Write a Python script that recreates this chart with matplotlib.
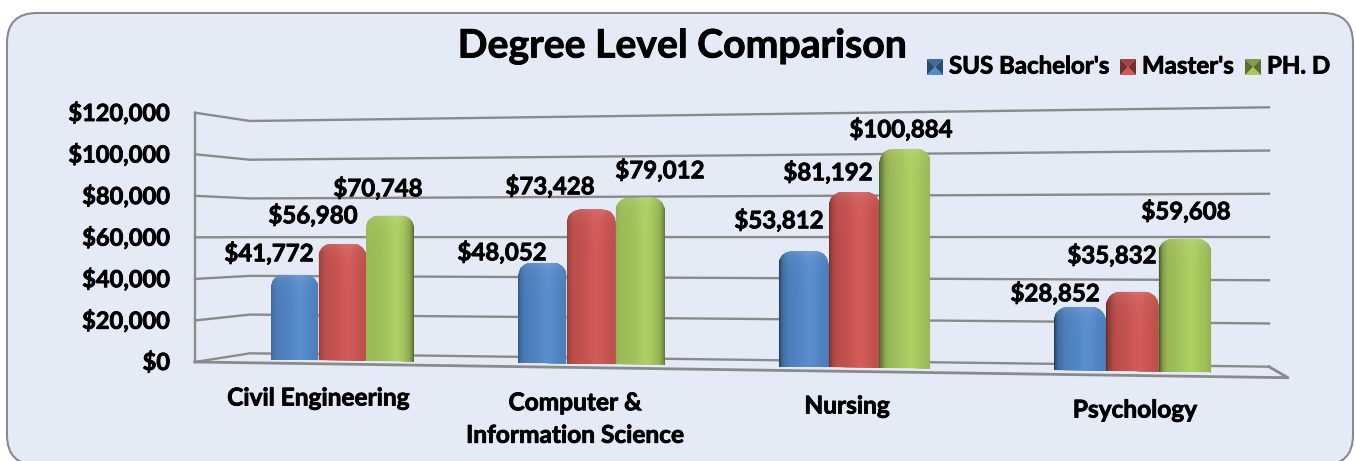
import matplotlib
matplotlib.use('Agg')
import matplotlib.pyplot as plt
import matplotlib.transforms as mtransforms
import matplotlib.patheffects as pe
from matplotlib.patches import FancyBboxPatch, Polygon
from matplotlib.path import Path
import numpy as np

plt.rcParams['font.family'] = ['Lato', 'DejaVu Sans']

categories = ["Civil Engineering", "Computer &\nInformation Science", "Nursing", "Psychology"]
series_names = ["SUS Bachelor's", "Master's", "PH. D"]
bachelors = [41772, 48052, 53812, 28852]
masters = [56980, 73428, 81192, 35832]
phd = [70748, 79012, 100884, 59608]
y_ticks = [0, 20000, 40000, 60000, 80000, 100000, 120000]

W, H = 1356, 461

# colours: mid, highlight
colors = [('#4d80bd', '#5a8dce'), ('#c0504d', '#d25b58'), ('#9dbd59', '#abcf62')]
key_colors = ['#4a7ebb', '#c0504d', '#98b954']
# how dark the left / right side of each bar gets, per category then series
left_dark = [[.20, .25, .03], [.35, .25, .08], [.55, .45, .55], [.60, .55, .60]]
right_dark = [[.03, .03, .50], [.03, .03, .42], [.03, .03, .03], [.03, .03, .08]]
bar_width = 0.19
bar_offsets = [-0.195, -0.003, 0.187]
# the groups get a little narrower towards the right
group_scale = [1.03, 1.0, 0.98, 0.96]

# where the data labels sit, px centres
label_pos = [[(269, 253), (313, 215), (378, 188)],
             [(502, 252), (550, 186), (660, 170)],
             [(779, 220), (828, 172), (901, 129)],
             [(1055, 293), (1112, 255), (1186, 211)]]
cat_pos = [(318, 398), (575, 419), (847, 406), (1135, 410)]

thick = [pe.withStroke(linewidth=0.6, foreground='black')]


class BarPlane(mtransforms.Transform):
    # perspective of the plane the bars stand on: (category, dollars) -> px
    input_dims = 2
    output_dims = 2
    is_separable = False

    def transform_non_affine(self, values):
        values = np.asarray(values, dtype=float)
        u, v = values[:, 0], values[:, 1]
        w = 1 - 0.0266 * u
        return np.column_stack([(233.25 * u + 343) / w,
                                (-6.3 * u + 360.7 - 0.00205 * v) / w])


fig = plt.figure(figsize=(W / 100, H / 100), dpi=100)
ax = fig.add_axes([0, 0, 1, 1])
ax.set_axis_off()

panel = FancyBboxPatch((7, 13), 1346, 452, boxstyle="round,pad=0,rounding_size=30",
                       facecolor='#e5ebf6', edgecolor='#8a8a8a', linewidth=1.5)
ax.add_patch(panel)


# back wall and side wall
def side_y(v):
    return 362 - v * 249.3 / 120000


def back_y(v, right=False):
    if right:
        return 366.7 - v * 259.4 / 120000
    return 353.3 - v * 232.3 / 120000


grid = '#8a8a8a'
for v in y_ticks:
    ax.plot([195, 250, 1269], [side_y(v), back_y(v), back_y(v, True)], color=grid, lw=1.7, zorder=2)
    ax.text(170, side_y(v), "${:,}".format(v), ha='right', va='center', fontsize=17,
            fontweight='bold', color='black', zorder=6, path_effects=thick)
ax.plot([195, 195], [side_y(120000), side_y(0)], color=grid, lw=1.7, zorder=2)
ax.plot([195, 1288, 1269], [362, 377.7, 366.7], color=grid, lw=2, zorder=2)

plane = BarPlane() + ax.transData


def rounded_top(x0, x1, top):
    # outline of a bar with round shoulders, in data units
    rx = 0.052
    ry = 6000
    t = np.linspace(0, np.pi / 2, 12)
    left = np.column_stack([x0 + rx - rx * np.cos(t), top - ry + ry * np.sin(t)])
    right = np.column_stack([x1 - rx + rx * np.sin(t), top - ry + ry * np.cos(t)])
    return Path(np.vstack([[x0, 0], left, right, [x1, 0], [x0, 0]]))


def rgb(c):
    return np.array(matplotlib.colors.to_rgb(c))


def shaded(mid, light, dl, dr, top):
    # colour grid for one bar: dark sides, a soft highlight right of the middle
    t = (np.arange(48) + .5) / 48
    s = (np.arange(80) + .5) / 80
    glow = np.exp(-((t - .62) / .2) ** 2)
    side = 1 - dl * np.exp(-t / .07) - dr * np.exp(-(1 - t) / .07)
    band = np.outer(glow, rgb(light)) + np.outer(1 - glow, rgb(mid))
    img = np.repeat(band[None, :, :], 80, axis=0)
    dist = (1 - s) * top * 0.00205  # px below the top of the bar
    lift = np.exp(-dist / 7)[:, None, None]
    img = img * (1 - .25 * lift) + (img * .5 + .5) * .25 * lift
    return np.clip(img * side[None, :, None], 0, 1)


values = [bachelors, masters, phd]
for k, vals in enumerate(values):
    x = [i + bar_offsets[k] * group_scale[i] for i in range(len(categories))]
    widths = [bar_width * s for s in group_scale]
    bars = ax.bar(x, vals, width=widths, color=colors[k][0], transform=plane,
                  linewidth=0, zorder=3 + k * .1)
    for i, rect in enumerate(bars):
        x0 = x[i] - widths[i] / 2
        x1 = x[i] + widths[i] / 2
        outline = rounded_top(x0, x1, vals[i])
        rect.set_clip_path(outline, plane)
        xe, ye = np.meshgrid(np.linspace(x0, x1, 49), np.linspace(0, vals[i], 81))
        mesh = ax.pcolormesh(xe, ye, shaded(colors[k][0], colors[k][1], left_dark[i][k],
                                            right_dark[i][k], vals[i]),
                             transform=plane, zorder=3.05 + k * .1, linewidth=0, antialiased=False)
        mesh.set_clip_path(outline, plane)
        ax.text(label_pos[i][k][0], label_pos[i][k][1], "${:,}".format(vals[i]), ha='center',
                va='center', fontsize=17.3, fontweight='bold', color='black', zorder=6,
                path_effects=thick)

for i, cat in enumerate(categories):
    ax.text(cat_pos[i][0], cat_pos[i][1], cat, ha='center', va='center', fontsize=17.6,
            fontweight='bold', color='black', linespacing=1.5, zorder=6, path_effects=thick)

ax.text(682, 46, "Degree Level Comparison", ha='center', va='center', fontsize=28.2,
        fontweight='bold', color='black', zorder=6, path_effects=thick)

# legend with little bevelled keys
key_x = [927, 1120, 1245]
text_x = [949, 1142, 1267]
for k, name in enumerate(series_names):
    x0, x1, y0, y1 = key_x[k], key_x[k] + 16, 59, 75
    c = rgb(key_colors[k])
    cx, cy = (x0 + x1) / 2, (y0 + y1) / 2
    ax.add_patch(Polygon([(x0, y0), (x1, y0), (cx, cy)], color=c * .85, lw=0, zorder=5))
    ax.add_patch(Polygon([(x0, y1), (x1, y1), (cx, cy)], color=np.clip(c * 1.1, 0, 1), lw=0, zorder=5))
    ax.add_patch(Polygon([(x0, y0), (x0, y1), (cx, cy)], color=c * .6, lw=0, zorder=5))
    ax.add_patch(Polygon([(x1, y0), (x1, y1), (cx, cy)], color=c * .6, lw=0, zorder=5))
    ax.text(text_x[k], 66, name, ha='left', va='center', fontsize=17.3, fontweight='bold',
            color='black', zorder=6, path_effects=thick)

ax.set_xlim(0, W)
ax.set_ylim(H, 0)
fig.savefig('out.png', dpi=100, facecolor='white')
